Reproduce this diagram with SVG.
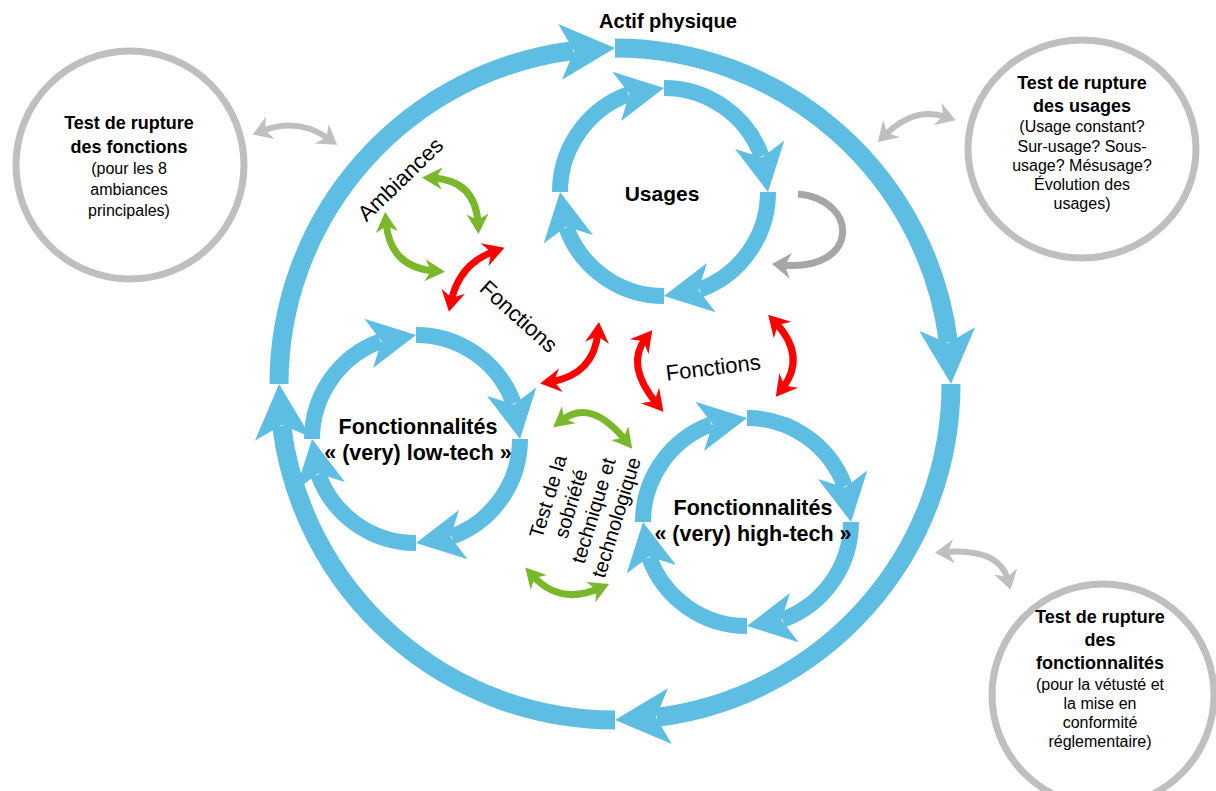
<svg xmlns="http://www.w3.org/2000/svg" xmlns:xlink="http://www.w3.org/1999/xlink" width="1216" height="791" viewBox="0 0 1216 791">
<style>
  text { font-family: "Liberation Sans", Arial, sans-serif; fill: #000; }
  .b { font-weight: bold; }
  .shaftL { fill: none; stroke: #5ebde3; stroke-width: 19; }
  .shaftS { fill: none; stroke: #5ebde3; stroke-width: 16; }
  .headB { fill: #5ebde3; }
  .ring { fill: #fff; stroke: #bfbfbf; stroke-width: 7; }
  .green { fill: none; stroke: #78b82a; stroke-width: 7; marker-start: url(#mg); marker-end: url(#mg); }
  .red { fill: none; stroke: #ff0000; stroke-width: 7; marker-start: url(#mr); marker-end: url(#mr); }
  .gray { fill: none; stroke: #bfbfbf; stroke-width: 6; marker-start: url(#mgr); marker-end: url(#mgr); }
  .loop { fill: none; stroke: #a6a6a6; stroke-width: 7; marker-end: url(#mlp); }
</style>
<defs>
  <marker id="mg" viewBox="-24 -14 26 28" refX="-10" refY="0" markerWidth="26" markerHeight="28" markerUnits="userSpaceOnUse" orient="auto-start-reverse">
    <path d="M0,0 L-20,-11 L-14,0 L-20,11 Z" fill="#78b82a"/>
  </marker>
  <marker id="mr" viewBox="-24 -14 26 28" refX="-10" refY="0" markerWidth="26" markerHeight="28" markerUnits="userSpaceOnUse" orient="auto-start-reverse">
    <path d="M0,0 L-21,-12 L-14,0 L-21,12 Z" fill="#ff0000"/>
  </marker>
  <marker id="mgr" viewBox="-24 -14 26 28" refX="-10" refY="0" markerWidth="26" markerHeight="28" markerUnits="userSpaceOnUse" orient="auto-start-reverse">
    <path d="M0,0 L-19,-12 L-13,0 L-19,12 Z" fill="#bfbfbf"/>
  </marker>
  <marker id="mlp" viewBox="-24 -14 26 28" refX="-10" refY="0" markerWidth="26" markerHeight="28" markerUnits="userSpaceOnUse" orient="auto">
    <path d="M0,0 L-19,-13 L-13,0 L-19,13 Z" fill="#a6a6a6"/>
  </marker>
  <g id="bigSeg">
    <path class="shaftL" d="M0,-336 A336 336 0 0 1 333.38,-41.88"/>
    <polygon class="headB" points="0,0 -55,-28 -41,0 -55,28" transform="translate(336,0) rotate(86)"/>
  </g>
  <g id="smallSeg">
    <path class="shaftS" d="M0,-104 A104 104 0 0 1 97.73,-35.57"/>
    <polygon class="headB" points="0,0 -48,-25 -35,0 -48,25" transform="translate(104,0) rotate(80)"/>
  </g>
</defs>

<g id="actif-physique">
  <use xlink:href="#bigSeg" href="#bigSeg" transform="translate(615,384)"/>
  <use xlink:href="#bigSeg" href="#bigSeg" transform="translate(615,384) rotate(90)"/>
  <use xlink:href="#bigSeg" href="#bigSeg" transform="translate(615,384) rotate(180)"/>
  <use xlink:href="#bigSeg" href="#bigSeg" transform="translate(615,384) rotate(270)"/>
  <text class="b" x="668" y="28" font-size="20" text-anchor="middle">Actif physique</text>
</g>

<g id="usages">
  <use xlink:href="#smallSeg" href="#smallSeg" transform="translate(664,192)"/>
  <use xlink:href="#smallSeg" href="#smallSeg" transform="translate(664,192) rotate(90)"/>
  <use xlink:href="#smallSeg" href="#smallSeg" transform="translate(664,192) rotate(180)"/>
  <use xlink:href="#smallSeg" href="#smallSeg" transform="translate(664,192) rotate(270)"/>
  <text class="b" x="662" y="201" font-size="21" text-anchor="middle">Usages</text>
</g>

<g id="low-tech">
  <use xlink:href="#smallSeg" href="#smallSeg" transform="translate(416,439)"/>
  <use xlink:href="#smallSeg" href="#smallSeg" transform="translate(416,439) rotate(90)"/>
  <use xlink:href="#smallSeg" href="#smallSeg" transform="translate(416,439) rotate(180)"/>
  <use xlink:href="#smallSeg" href="#smallSeg" transform="translate(416,439) rotate(270)"/>
  <text class="b" x="418" y="434" font-size="21.5" text-anchor="middle">Fonctionnalités</text>
  <text class="b" x="418" y="460" font-size="21.5" text-anchor="middle">« (very) low-tech »</text>
</g>

<g id="high-tech">
  <use xlink:href="#smallSeg" href="#smallSeg" transform="translate(747,522)"/>
  <use xlink:href="#smallSeg" href="#smallSeg" transform="translate(747,522) rotate(90)"/>
  <use xlink:href="#smallSeg" href="#smallSeg" transform="translate(747,522) rotate(180)"/>
  <use xlink:href="#smallSeg" href="#smallSeg" transform="translate(747,522) rotate(270)"/>
  <text class="b" x="753" y="515" font-size="21.5" text-anchor="middle">Fonctionnalités</text>
  <text class="b" x="753" y="541" font-size="21.5" text-anchor="middle">« (very) high-tech »</text>
</g>

<g id="test-fonctions">
  <circle class="ring" cx="130" cy="165" r="114"/>
  <text class="b" x="129" y="129" font-size="18" text-anchor="middle">Test de rupture</text>
  <text class="b" x="129" y="153" font-size="18" text-anchor="middle">des fonctions</text>
  <text x="129" y="174" font-size="16" text-anchor="middle">(pour les 8</text>
  <text x="129" y="195" font-size="16" text-anchor="middle">ambiances</text>
  <text x="129" y="216" font-size="16" text-anchor="middle">principales)</text>
</g>

<g id="test-usages">
  <ellipse class="ring" cx="1082" cy="149" rx="114" ry="109"/>
  <text class="b" x="1082" y="89" font-size="18" text-anchor="middle">Test de rupture</text>
  <text class="b" x="1082" y="112" font-size="18" text-anchor="middle">des usages</text>
  <text x="1082" y="132" font-size="16" text-anchor="middle">(Usage constant?</text>
  <text x="1082" y="152" font-size="16" text-anchor="middle">Sur-usage? Sous-</text>
  <text x="1082" y="171" font-size="16" text-anchor="middle">usage? Mésusage?</text>
  <text x="1082" y="190" font-size="16" text-anchor="middle">Évolution des</text>
  <text x="1082" y="209" font-size="16" text-anchor="middle">usages)</text>
</g>

<g id="test-fonctionnalites">
  <circle class="ring" cx="1103" cy="695" r="111"/>
  <text class="b" x="1100" y="623" font-size="18" text-anchor="middle">Test de rupture</text>
  <text class="b" x="1100" y="646" font-size="18" text-anchor="middle">des</text>
  <text class="b" x="1100" y="669" font-size="18" text-anchor="middle">fonctionnalités</text>
  <text x="1100" y="690" font-size="16" text-anchor="middle">(pour la vétusté et</text>
  <text x="1100" y="709" font-size="16" text-anchor="middle">la mise en</text>
  <text x="1100" y="728" font-size="16" text-anchor="middle">conformité</text>
  <text x="1100" y="747" font-size="16" text-anchor="middle">réglementaire)</text>
</g>

<g id="label-ambiances" transform="translate(400,179) rotate(-44)">
  <text x="0" y="8" font-size="22" text-anchor="middle">Ambiances</text>
</g>
<g id="label-fonctions-1" transform="translate(519,316) rotate(42)">
  <text x="0" y="8" font-size="22" text-anchor="middle">Fonctions</text>
</g>
<g id="label-fonctions-2" transform="translate(713,367) rotate(-7)">
  <text x="0" y="8" font-size="22" text-anchor="middle">Fonctions</text>
</g>
<g id="label-sobriete" transform="translate(582,507) rotate(-73)">
  <text x="0" y="-28.7" font-size="20" text-anchor="middle">Test de la</text>
  <text x="0" y="-4.9" font-size="20" text-anchor="middle">sobriété</text>
  <text x="0" y="18.9" font-size="20" text-anchor="middle">technique et</text>
  <text x="0" y="42.7" font-size="20" text-anchor="middle">technologique</text>
</g>

<g id="connectors">
  <path class="green" d="M432,178 Q476,180 478,224"/>
  <path class="green" d="M386,222 Q390,268 435,271"/>
  <path class="green" d="M561,421 Q590.5,397 626,441"/>
  <path class="green" d="M532,575 Q560,606 600,588"/>
  <path class="red" d="M495,251 Q459,263.5 451,302"/>
  <path class="red" d="M598,332 Q594,375 550,382"/>
  <path class="red" d="M646,338 Q624.5,365 657,404"/>
  <path class="red" d="M775,322 Q807.5,356.5 782,389"/>
  <path class="gray" d="M262,131 Q298.5,117 329,139"/>
  <path class="gray" d="M885,135 Q915,106 946,117"/>
  <path class="gray" d="M945,552 Q999.5,548 1008,580"/>
  <path class="loop" d="M798,194 C860,200 860,272 782,265"/>
</g>
</svg>
